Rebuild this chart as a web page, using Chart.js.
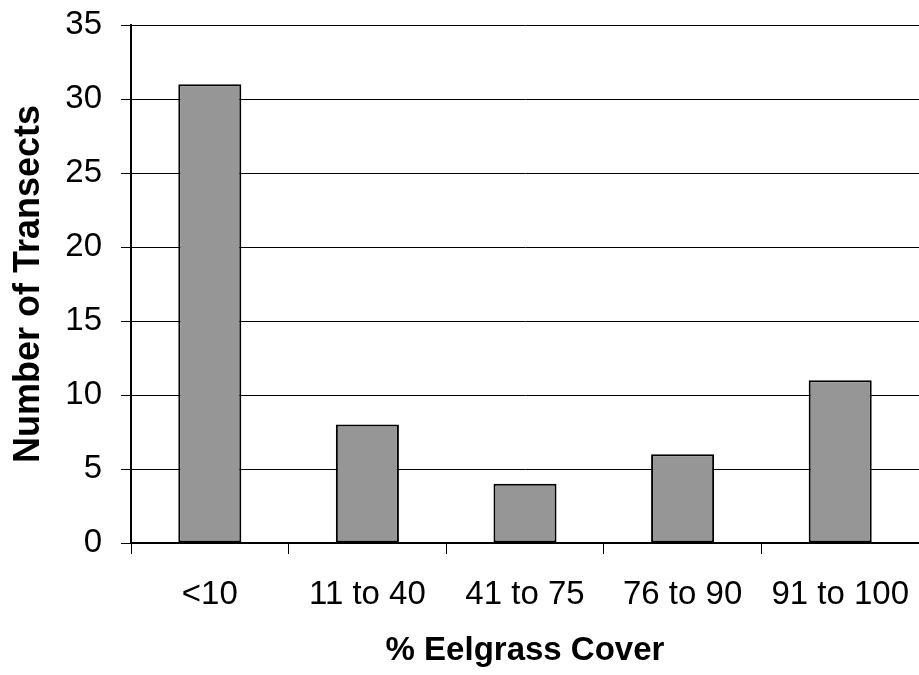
<!DOCTYPE html>
<html lang="en">
  <head>
    <meta charset="UTF-8" />
    <title>Eelgrass Cover</title>
    <script src="https://cdn.jsdelivr.net/npm/chart.js"></script>
    <style>
      html, body { margin: 0; padding: 0; background: #fff; }
      #wrap { width: 919px; height: 675px; }
    </style>
  </head>
  <body>
    <div id="wrap">
      <canvas id="chart_cover" width="919" height="675"></canvas>
    </div>
    <script>
      // values
      const categories = ["<10", "11 to 40", "41 to 75", "76 to 90", "91 to 100"];
      const transects = [31, 8, 4, 6, 11];
      const yMin = 0;
      const yMax = 35;
      const yStep = 5;

      const fontFamily = "'Liberation Sans', Arial, sans-serif";

      const ctx = document.getElementById("chart_cover");

      const myChart = new Chart(ctx, {
        type: "bar",
        data: {
          labels: categories,
          datasets: [
            {
              label: "Number of Transects",
              data: transects,
              backgroundColor: "#969696",
              borderColor: "#000",
              borderWidth: 2,
              borderSkipped: false,
              barPercentage: 0.4,
              categoryPercentage: 1.0,
            },
          ],
        },
        options: {
          responsive: false,
          animation: false,
          devicePixelRatio: 1,
          layout: { padding: { top: 25, right: 0, left: 0, bottom: 0 } },
          plugins: {
            legend: { display: false },
            tooltip: { enabled: false },
          },
          scales: {
            x: {
              grid: {
                offset: true,
                drawOnChartArea: false,
                drawTicks: true,
                tickLength: 11,
                color: "#000",
                lineWidth: 1,
              },
              border: { display: true, color: "#000", width: 2 },
              ticks: {
                color: "#000",
                padding: 21,
                maxRotation: 0,
                font: { family: fontFamily, size: 33 },
              },
              title: {
                display: true,
                text: "% Eelgrass Cover",
                color: "#000",
                padding: { top: 0, bottom: 4 },
                font: { family: fontFamily, size: 33, weight: "bold" },
              },
              afterFit: (scale) => {
                scale.height = 132;
                scale.paddingLeft = 0;
                scale.paddingRight = 0;
              },
            },
            y: {
              min: yMin,
              max: yMax,
              ticks: {
                stepSize: yStep,
                color: "#000",
                padding: 19,
                font: { family: fontFamily, size: 33 },
              },
              grid: {
                color: "#000",
                lineWidth: 1,
                drawTicks: true,
                tickLength: 10,
              },
              border: { display: true, color: "#000", width: 2 },
              title: {
                display: true,
                text: "Number of Transects",
                color: "#000",
                padding: { top: 7, bottom: 0 },
                font: { family: fontFamily, size: 36, weight: "bold" },
              },
              afterFit: (scale) => {
                scale.width = 131;
                scale.paddingTop = 0;
                scale.paddingBottom = 0;
              },
            },
          },
        },
      });
    </script>
  </body>
</html>
